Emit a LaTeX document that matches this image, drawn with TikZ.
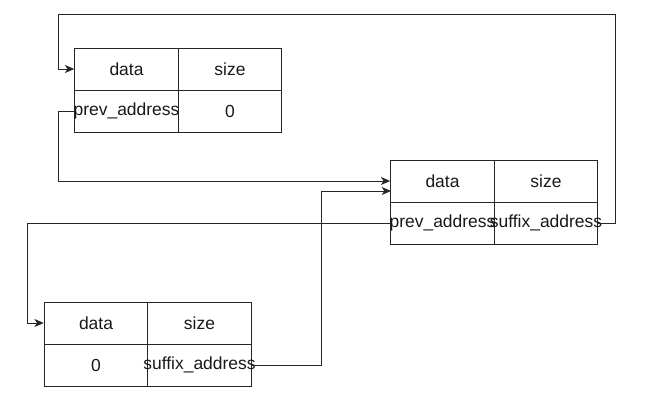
\documentclass[tikz,border=0pt]{standalone}
\usepackage{fontspec}
\setmainfont{Liberation Sans}
\usetikzlibrary{arrows.meta}
\newcommand\celltxt[1]{\makebox[0pt]{#1}}
\begin{document}
\begin{tikzpicture}[x=0.75pt,y=-0.75pt,
  cell/.style={draw=black!85, line width=0.75pt, minimum width=103.5*0.75pt, minimum height=42*0.75pt, inner sep=0pt, font=\fontsize{13.1}{15}\selectfont, text=black!90},
  link/.style={draw=black!85, line width=0.75pt},
  arr/.style={link, -{Stealth[length=7pt,width=6pt,inset=2pt]}}]
\useasboundingbox (0,0) rectangle (662,412);
% box 1
\node[cell] (b1d) at (126.5,69) {\celltxt{data}};
\node[cell] (b1s) at (230,69) {\celltxt{size}};
\node[cell] (b1p) at (126.5,111) {\celltxt{prev\_address}};
\node[cell] (b1z) at (230,111) {\celltxt{0}};
% box 2
\node[cell] (b2d) at (442.5,181) {\celltxt{data}};
\node[cell] (b2s) at (546,181) {\celltxt{size}};
\node[cell] (b2p) at (442.5,223) {\celltxt{prev\_address}};
\node[cell] (b2x) at (546,223) {\celltxt{suffix\_address}};
% box 3
\node[cell] (b3d) at (96,323) {\celltxt{data}};
\node[cell] (b3s) at (199.5,323) {\celltxt{size}};
\node[cell] (b3z) at (96,365) {\celltxt{0}};
\node[cell] (b3x) at (199.5,365) {\celltxt{suffix\_address}};
% waypoints
\coordinate (w1a) at (615,223);
\coordinate (w1b) at (615,14);
\coordinate (w1c) at (58,14);
\coordinate (w2a) at (58,111);
\coordinate (w2b) at (58,181);
\coordinate (w3a) at (321,365);
\coordinate (w3b) at (321,191);
\coordinate (w3c) at (391,191);
\coordinate (w4a) at (27,223);
\coordinate (w4b) at (27,323);
% connectors
\draw[arr] (b2x.east) -- (w1a) -- (w1b) -- (w1c) |- (b1d.west);
\draw[arr] (b1p.west) -- (w2a) -- (w2b) -- (b2d.west);
\draw[arr] (b3x.east) -- (w3a) -- (w3b) -- (w3c);
\draw[arr] (b2p.west) -- (w4a) -- (w4b) -- (b3d.west);
\end{tikzpicture}
\end{document}
